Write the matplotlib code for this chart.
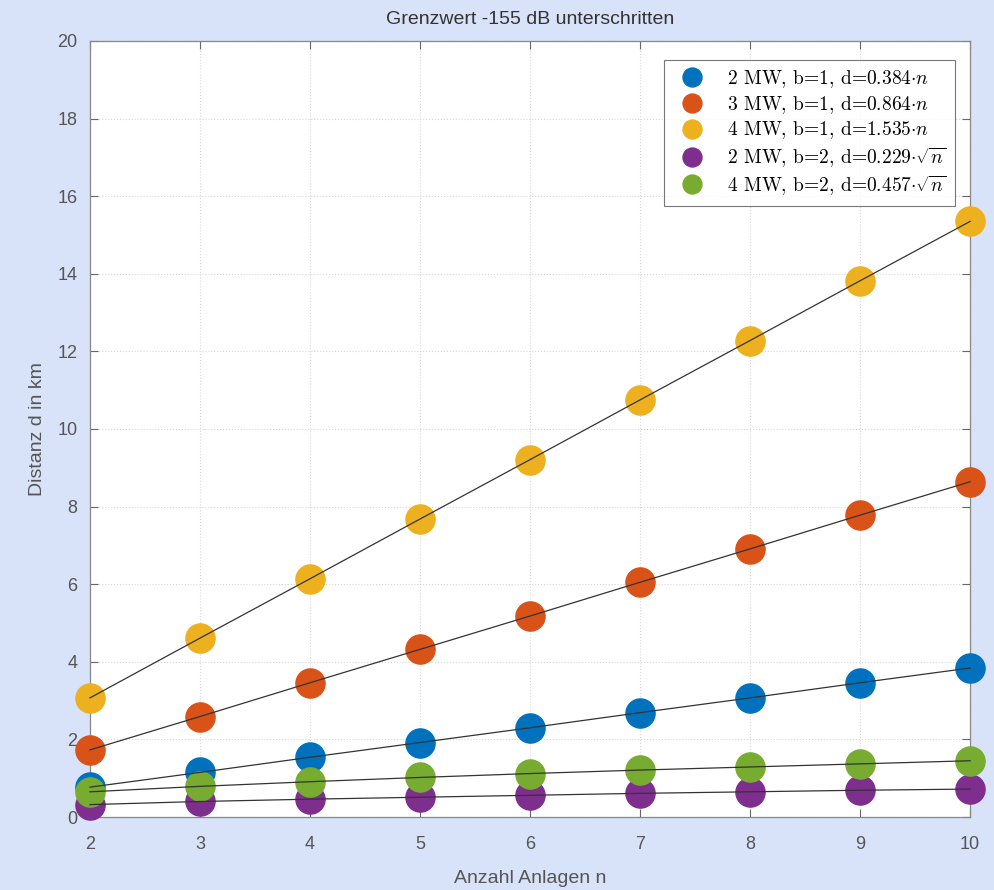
import numpy as np
import matplotlib
matplotlib.use('Agg')
import matplotlib.pyplot as plt

# values
n_anlagen = [2, 3, 4, 5, 6, 7, 8, 9, 10]
d_2mw_b1 = [0.77, 1.15, 1.54, 1.92, 2.30, 2.69, 3.07, 3.46, 3.84]
d_3mw_b1 = [1.73, 2.59, 3.46, 4.32, 5.18, 6.05, 6.91, 7.78, 8.64]
d_4mw_b1 = [3.07, 4.61, 6.14, 7.68, 9.21, 10.75, 12.28, 13.82, 15.35]
d_2mw_b2 = [0.32, 0.40, 0.46, 0.51, 0.56, 0.61, 0.65, 0.69, 0.72]
d_4mw_b2 = [0.65, 0.79, 0.91, 1.02, 1.12, 1.21, 1.29, 1.37, 1.45]

labels = [
    r'2 MW, b=1, d=0.384$\cdot n$',
    r'3 MW, b=1, d=0.864$\cdot n$',
    r'4 MW, b=1, d=1.535$\cdot n$',
    r'2 MW, b=2, d=0.229$\cdot\sqrt{n}$',
    r'4 MW, b=2, d=0.457$\cdot\sqrt{n}$',
]
colors = ['#0072bd', '#d95319', '#edb120', '#7e2f8e', '#77ac30']
series = [d_2mw_b1, d_3mw_b1, d_4mw_b1, d_2mw_b2, d_4mw_b2]

plt.rcParams['mathtext.fontset'] = 'cm'
plt.rcParams['font.family'] = ['Liberation Sans', 'DejaVu Sans']

bg = '#d8e2f8'
fig = plt.figure(figsize=(9.94, 8.90), dpi=100, facecolor=bg)
ax = fig.add_axes([0.0905, 0.082, 0.8855, 0.872])

for y, c, lab in zip(series, colors, labels):
    ax.plot(n_anlagen, y, 'o', color=c, markersize=21, label=lab,
            zorder=3, clip_on=False)
for y in series:
    ax.plot(n_anlagen, y, '-', color='#333333', lw=0.9, zorder=4, clip_on=False)

ax.set_xlim(2, 10)
ax.set_ylim(0, 20)
ax.set_xticks(range(2, 11))
ax.set_yticks(range(0, 21, 2))
ax.grid(True, linestyle=':', color='#d8d8d8', lw=0.8)
ax.tick_params(direction='in', top=True, right=True, length=6,
               labelsize=13, colors='#666666', labelcolor='#555555')
ax.tick_params(axis='x', pad=14)
ax.tick_params(axis='y', pad=9)
for sp in ax.spines.values():
    sp.set_color('#888888')
    sp.set_linewidth(0.9)

ax.set_title('Grenzwert -155 dB unterschritten', fontsize=14, color='#333333', pad=12)
ax.set_xlabel('Anzahl Anlagen n', fontsize=14, color='#555555', labelpad=12)
ax.set_ylabel('Distanz d in km', fontsize=14, color='#555555', labelpad=8)

leg = ax.legend(loc='upper right', bbox_to_anchor=(0.983, 0.976),
                borderaxespad=0, prop={'family': 'cmr10', 'size': 14},
                frameon=True, fancybox=False, edgecolor='#555555',
                markerscale=0.65, handletextpad=0.8, borderpad=0.45,
                labelspacing=0.2)
leg.get_frame().set_linewidth(0.8)
leg.set_zorder(6)

fig.savefig('out.png', dpi=100, facecolor=bg)
